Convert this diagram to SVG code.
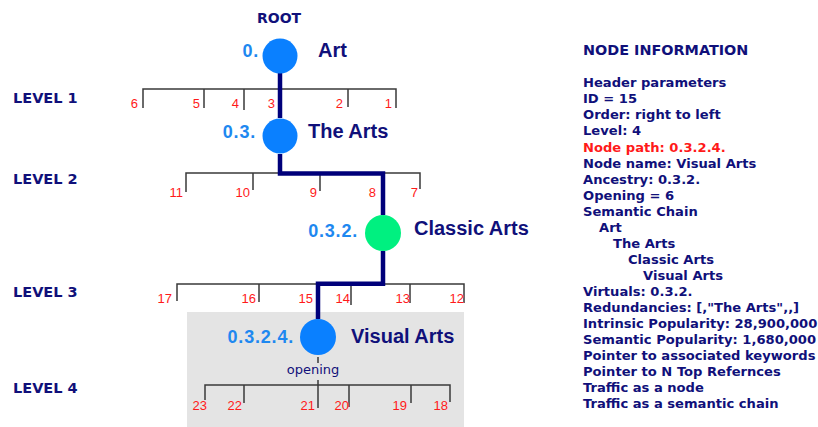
<svg xmlns="http://www.w3.org/2000/svg" width="818" height="427" viewBox="0 0 818 427">
<style>
.lvl{font-family:"DejaVu Sans",sans-serif;font-weight:bold;font-size:14.5px;fill:#10107a}
.name{font-family:"Liberation Sans",Arial,sans-serif;font-weight:bold;font-size:20px;fill:#10107a}
.path{font-family:"Liberation Sans",Arial,sans-serif;font-weight:bold;font-size:18px;letter-spacing:0.8px;fill:#1e88f0;text-anchor:end}
.num{font-family:"Liberation Sans",Arial,sans-serif;font-size:13px;fill:#ff1a1a;text-anchor:end}
.br{stroke:#3a3a3a;stroke-width:1.5;fill:none}
.thick{stroke:#00007a;stroke-width:4.5;fill:none}
.info{font-family:"DejaVu Sans",sans-serif;font-weight:bold;font-size:13.1px;fill:#10107a}
.blue{fill:#0a80ff}
</style>
<rect x="0" y="0" width="818" height="427" fill="#ffffff"/>
<rect x="187" y="312" width="277" height="115" fill="#e4e4e4"/>

<g id="level-labels">
<text class="lvl" x="13" y="103">LEVEL 1</text>
<text class="lvl" x="13" y="184">LEVEL 2</text>
<text class="lvl" x="13" y="297">LEVEL 3</text>
<text class="lvl" x="13" y="393">LEVEL 4</text>
<text class="lvl" x="257" y="23" style="font-size:14px">ROOT</text>
</g>

<g id="brackets">
<path class="br" d="M143,108V89H396V108M204,89V108M244,89V110M348,89V107"/>
<path class="br" d="M186,192V173H420V189M253,173V190M320,173V191"/>
<path class="br" d="M177,301V284H464V303M259,284V302M351,284V305M410,284V303"/>
<path class="br" d="M205,400V385H450V402M244,385V403M349,385V407M411,385V403M318,357V363M318,380V408"/>
</g>

<g id="connectors">
<path class="thick" d="M280,73V118"/>
<path class="thick" d="M280,154V173.5H383V215"/>
<path class="thick" d="M383,251V283.7H318V319"/>
</g>

<g id="child-numbers">
<text class="num" x="138" y="108">6</text>
<text class="num" x="200" y="108">5</text>
<text class="num" x="239" y="108">4</text>
<text class="num" x="275" y="108">3</text>
<text class="num" x="343" y="108">2</text>
<text class="num" x="392" y="108">1</text>
<text class="num" x="183" y="197">11</text>
<text class="num" x="250" y="197">10</text>
<text class="num" x="317" y="197">9</text>
<text class="num" x="376" y="197">8</text>
<text class="num" x="418" y="197">7</text>
<text class="num" x="172" y="303">17</text>
<text class="num" x="256" y="303">16</text>
<text class="num" x="313" y="303">15</text>
<text class="num" x="350" y="303">14</text>
<text class="num" x="410" y="303">13</text>
<text class="num" x="464" y="303">12</text>
<text class="num" x="207" y="410">23</text>
<text class="num" x="242" y="410">22</text>
<text class="num" x="315" y="410">21</text>
<text class="num" x="349" y="410">20</text>
<text class="num" x="407" y="410">19</text>
<text class="num" x="448" y="410">18</text>
</g>

<g id="node-art">
<circle class="blue" cx="280" cy="56" r="17.5"/>
<text class="path" x="259" y="57">0.</text>
<text class="name" x="318" y="57">Art</text>
</g>

<g id="node-the-arts">
<circle class="blue" cx="280" cy="136" r="17.5"/>
<text class="path" x="256" y="138">0.3.</text>
<text class="name" x="308" y="138">The Arts</text>
</g>

<g id="node-classic-arts">
<circle cx="383" cy="233" r="18" fill="#00f080"/>
<text class="path" x="358" y="237">0.3.2.</text>
<text class="name" x="414" y="235">Classic Arts</text>
</g>

<g id="node-visual-arts">
<circle class="blue" cx="318" cy="337" r="18"/>
<text class="path" x="294" y="343">0.3.2.4.</text>
<text class="name" x="351" y="343">Visual Arts</text>
<text x="313" y="374" text-anchor="middle" style="font-family:'DejaVu Sans',sans-serif;font-size:13px;fill:#10107a">opening</text>
</g>

<g id="node-information">
<text class="info" x="583" y="55" style="font-size:14.4px">NODE INFORMATION</text>
<text class="info" x="583" y="87.3">Header parameters</text>
<text class="info" x="583" y="103.3">ID = 15</text>
<text class="info" x="583" y="119.4">Order: right to left</text>
<text class="info" x="583" y="135.4">Level: 4</text>
<text class="info" x="583" y="151.5" style="fill:#ff1a1a">Node path: 0.3.2.4.</text>
<text class="info" x="583" y="167.5">Node name: Visual Arts</text>
<text class="info" x="583" y="183.6">Ancestry: 0.3.2.</text>
<text class="info" x="583" y="199.6">Opening = 6</text>
<text class="info" x="583" y="215.7">Semantic Chain</text>
<text class="info" x="599" y="231.7">Art</text>
<text class="info" x="613" y="247.8">The Arts</text>
<text class="info" x="628" y="263.8">Classic Arts</text>
<text class="info" x="643" y="279.9">Visual Arts</text>
<text class="info" x="583" y="295.9">Virtuals: 0.3.2.</text>
<text class="info" x="583" y="312">Redundancies: [,"The Arts",,]</text>
<text class="info" x="583" y="328">Intrinsic Popularity: 28,900,000</text>
<text class="info" x="583" y="344.1">Semantic Popularity: 1,680,000</text>
<text class="info" x="583" y="360.1">Pointer to associated keywords</text>
<text class="info" x="583" y="376.2">Pointer to N Top Refernces</text>
<text class="info" x="583" y="392.2">Traffic as a node</text>
<text class="info" x="583" y="408.3">Traffic as a semantic chain</text>
</g>
</svg>
